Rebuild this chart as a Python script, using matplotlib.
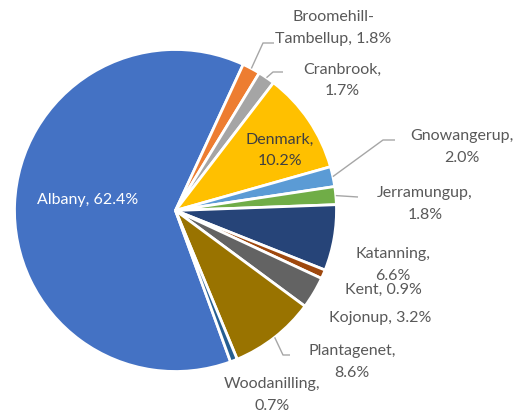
import numpy as np
import matplotlib
matplotlib.use('Agg')
import matplotlib.pyplot as plt

plt.rcParams['font.family'] = ['Lato', 'DejaVu Sans']

towns = ['Albany', 'Broomehill-\nTambellup', 'Cranbrook', 'Denmark', 'Gnowangerup',
         'Jerramungup', 'Katanning', 'Kent', 'Kojonup', 'Plantagenet', 'Woodanilling']
shares = [62.4, 1.8, 1.7, 10.2, 2.0, 1.8, 6.6, 0.9, 3.2, 8.6, 0.7]
colors = ['#4472C4', '#ED7D31', '#A5A5A5', '#FFC000', '#5B9BD5', '#70AD47',
          '#264478', '#9E480E', '#636363', '#997300', '#255E91']

# label text joiners (name then ", x%"), line break as in the original
seps = [', ', ', ', ',\n', ',\n', ',\n', ',\n', ',\n', ', ', ', ', ',\n', ',\n']

# label centres in pixel coords (y down), and leader elbow/ends
label_pos = [(88, 200), (333, 28), (342, 80), (280, 150), (462, 147), (425, 204),
             (393, 265), (383, 290), (380, 318), (352, 362), (272, 395)]
leaders = {1: [(263, 43), (274, 43)],
           2: [(273, 72), (283, 72)],
           4: [(383, 140), (395, 140)],
           5: [(358, 197)],
           9: [(283, 355), (290, 355)]}

W, H = 528, 416
fig = plt.figure(figsize=(W / 100, H / 100), dpi=100)
ax = fig.add_axes([0, 0, 1, 1])
ax.set_xlim(0, W)
ax.set_ylim(0, H)
ax.set_aspect('equal')
ax.axis('off')

cx, cy, r = 175.5, H - 210.5, 161
wedges, _ = ax.pie(shares, colors=colors, startangle=-70, counterclock=False,
                   center=(cx, cy), radius=r,
                   wedgeprops=dict(edgecolor='white', linewidth=2))
ax.set_xlim(0, W)
ax.set_ylim(0, H)

for i, w in enumerate(wedges):
    txt = towns[i] + seps[i] + '%.1f%%' % shares[i]
    x, y = label_pos[i]
    col = '#595959'
    if i == 0:
        col = 'white'
    elif i == 3:
        col = '#404040'
    ax.text(x, H - y, txt, ha='center', va='center', fontsize=11.5, color=col,
            linespacing=1.65)
    if i in leaders:
        mid = np.deg2rad((w.theta1 + w.theta2) / 2)
        px = [cx + r * np.cos(mid)] + [p[0] for p in leaders[i]]
        py = [cy + r * np.sin(mid)] + [H - p[1] for p in leaders[i]]
        ax.plot(px, py, color='#A6A6A6', lw=1, solid_capstyle='butt')

fig.savefig('out.png', dpi=100)
